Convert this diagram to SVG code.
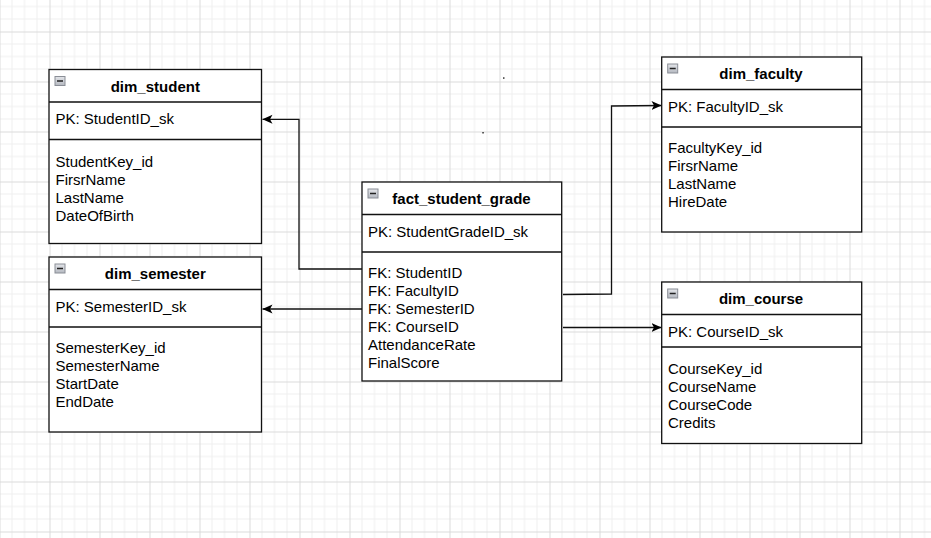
<svg xmlns="http://www.w3.org/2000/svg" width="931" height="538" viewBox="0 0 931 538">
<defs>
<pattern id="grid" patternUnits="userSpaceOnUse" x="-0.5" y="-18.5" width="50" height="50">
<path d="M12.5 0V50M25 0V50M37.5 0V50M0 12.5H50M0 25H50M0 37.5H50" stroke="#efefef" stroke-width="1" fill="none"/>
<path d="M0.5 0V50M0 0.5H50" stroke="#dadada" stroke-width="1" fill="none"/>
</pattern>
<linearGradient id="ig" x1="0" y1="0" x2="0" y2="1">
<stop offset="0" stop-color="#e4e6ea"/>
<stop offset="1" stop-color="#b4b8c0"/>
</linearGradient>
<marker id="arr" viewBox="0 0 10 10" refX="10" refY="5" markerWidth="10" markerHeight="10" markerUnits="userSpaceOnUse" orient="auto">
<path d="M0 0.5L10 5L0 9.5L2.5 5Z" fill="#000"/>
</marker>
<g id="icon">
<rect x="0.5" y="0.5" width="10" height="9" fill="url(#ig)" stroke="#8a8e96" stroke-width="1"/>
<path d="M2.5 5H8.5" stroke="#222" stroke-width="1.5"/>
</g>
</defs>
<style>
.box{fill:#fff;stroke:#111;stroke-width:1.3}
.div{stroke:#111;stroke-width:1.3}
.t{font-family:"Liberation Sans",Arial,sans-serif;font-size:15px;font-weight:bold;fill:#000;text-anchor:middle}
.f{font-family:"Liberation Sans",Arial,sans-serif;font-size:15px;fill:#000}
.c{fill:none;stroke:#111;stroke-width:1.3}
</style>
<rect width="931" height="538" fill="#fff"/>
<rect width="931" height="538" fill="url(#grid)"/>
<rect x="503" y="77.3" width="1.5" height="1.5" fill="#333"/>
<rect x="482.3" y="132" width="1.5" height="1.5" fill="#333"/>
<rect x="170.3" y="158.3" width="1.5" height="1.5" fill="#333"/>

<g id="connectors">
<polyline class="c" points="362,269 299,269 299,119.3 262.5,119.3" marker-end="url(#arr)"/>
<polyline class="c" points="362,309 262.5,309" marker-end="url(#arr)"/>
<polyline class="c" points="563,294.5 611.5,294 611.5,106 661.5,105.5" marker-end="url(#arr)"/>
<polyline class="c" points="563,327.5 661.5,327.5" marker-end="url(#arr)"/>
</g>

<g id="dim_student">
<rect class="box" x="49" y="69.5" width="212.5" height="174"/>
<path class="div" d="M49 102H261.5M49 139.5H261.5"/>
<use href="#icon" x="54.5" y="76"/>
<text class="t" x="155.3" y="91.5">dim_student</text>
<text class="f" x="55.5" y="124">PK: StudentID_sk</text>
<text class="f" x="55.5" y="166.5">StudentKey_id</text>
<text class="f" x="55.5" y="184.5">FirsrName</text>
<text class="f" x="55.5" y="202.5">LastName</text>
<text class="f" x="55.5" y="220.5">DateOfBirth</text>
</g>

<g id="dim_semester">
<rect class="box" x="49" y="257" width="212.5" height="175"/>
<path class="div" d="M49 289.5H261.5M49 327H261.5"/>
<use href="#icon" x="54.5" y="263.5"/>
<text class="t" x="155.3" y="278.5">dim_semester</text>
<text class="f" x="55.5" y="311.7">PK: SemesterID_sk</text>
<text class="f" x="55.5" y="353.3">SemesterKey_id</text>
<text class="f" x="55.5" y="371.3">SemesterName</text>
<text class="f" x="55.5" y="389.3">StartDate</text>
<text class="f" x="55.5" y="407.3">EndDate</text>
</g>

<g id="fact_student_grade">
<rect class="box" x="362" y="182" width="199.7" height="199"/>
<path class="div" d="M362 214.5H561.7M362 252H561.7"/>
<use href="#icon" x="367.5" y="188.5"/>
<text class="t" x="461.5" y="203.5">fact_student_grade</text>
<text class="f" x="368" y="236.7">PK: StudentGradeID_sk</text>
<text class="f" x="368" y="278.3">FK: StudentID</text>
<text class="f" x="368" y="296.3">FK: FacultyID</text>
<text class="f" x="368" y="314.3">FK: SemesterID</text>
<text class="f" x="368" y="332.3">FK: CourseID</text>
<text class="f" x="368" y="350.3">AttendanceRate</text>
<text class="f" x="368" y="368.3">FinalScore</text>
</g>

<g id="dim_faculty">
<rect class="box" x="661.7" y="57" width="200" height="175"/>
<path class="div" d="M661.7 89.5H861.7M661.7 127H861.7"/>
<use href="#icon" x="667.2" y="63.5"/>
<text class="t" x="761" y="78.5">dim_faculty</text>
<text class="f" x="668" y="111.7">PK: FacultyID_sk</text>
<text class="f" x="668" y="153.3">FacultyKey_id</text>
<text class="f" x="668" y="171.3">FirsrName</text>
<text class="f" x="668" y="189.3">LastName</text>
<text class="f" x="668" y="207.3">HireDate</text>
</g>

<g id="dim_course">
<rect class="box" x="661.7" y="282" width="200" height="161.5"/>
<path class="div" d="M661.7 314.5H861.7M661.7 347H861.7"/>
<use href="#icon" x="667.2" y="288.5"/>
<text class="t" x="761" y="303.5">dim_course</text>
<text class="f" x="668" y="336.7">PK: CourseID_sk</text>
<text class="f" x="668" y="374">CourseKey_id</text>
<text class="f" x="668" y="392">CourseName</text>
<text class="f" x="668" y="410">CourseCode</text>
<text class="f" x="668" y="428">Credits</text>
</g>
</svg>
